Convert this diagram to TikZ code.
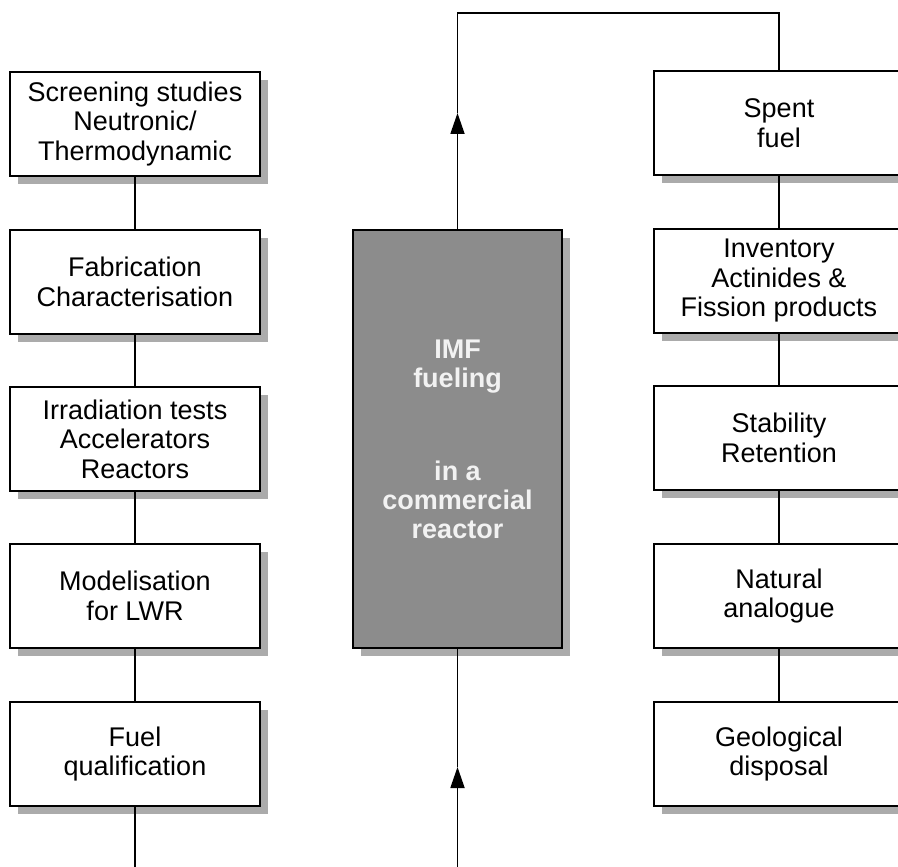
\documentclass[tikz,border=0pt]{standalone}
\usepackage{fontspec}
\setmainfont{Liberation Sans}
\usetikzlibrary{shadows,arrows.meta}
\begin{document}
\begin{tikzpicture}[x=1pt,y=-1pt,
  line width=1.8pt,
  stepbox/.style={draw=black, fill=white, line width=1.8pt, minimum width=250pt, minimum height=104pt,
    align=center, inner sep=2pt,
    font=\fontsize{27}{29.5}\selectfont,
    drop shadow={shadow xshift=8pt, shadow yshift=-8pt, fill=black!33, opacity=1}},
  centerbox/.style={draw=black, fill=black!45, line width=1.8pt, minimum width=209pt, minimum height=418pt,
    align=center, text=white!95!black,
    font=\fontsize{27}{29}\selectfont\bfseries,
    drop shadow={shadow xshift=8pt, shadow yshift=-8pt, fill=black!33, opacity=1}},
  arr/.style={-{Triangle[width=14pt,length=21pt]}, line width=1.8pt},
  conn/.style={line width=1.8pt}
]
\clip (0,0) rectangle (898,867);
\fill[white] (0,0) rectangle (898,867);

% left column
\node[stepbox] (l1) at (135,124) {Screening studies\\Neutronic/\\Thermodynamic};
\node[stepbox] (l2) at (135,282) {Fabrication\\Characterisation};
\node[stepbox] (l3) at (135,439) {Irradiation tests\\Accelerators\\Reactors};
\node[stepbox] (l4) at (135,596) {Modelisation\\for LWR};
\node[stepbox] (l5) at (135,754) {Fuel\\qualification};

% right column
\node[stepbox] (r1) at (779,123) {Spent\\fuel};
\node[stepbox] (r2) at (779,281) {Inventory\\Actinides \&\\Fission products};
\node[stepbox] (r3) at (779,438) {Stability\\Retention};
\node[stepbox] (r4) at (779,596) {Natural\\analogue};
\node[stepbox] (r5) at (779,754) {Geological\\disposal};

% center
\node[centerbox] (imf) at (457.5,439) {IMF\\fueling\\[64pt]in a\\commercial\\reactor};

% coordinates
\coordinate (tA) at (457.5,113);
\coordinate (topL) at (457.5,13);
\coordinate (tB) at (457.5,767);
\coordinate (botC) at (457.5,870);
\coordinate (botL) at (135,870);

% connectors
\draw[conn] (l1) -- (l2);
\draw[conn] (l2) -- (l3);
\draw[conn] (l3) -- (l4);
\draw[conn] (l4) -- (l5);
\draw[conn] (l5) -- (botL);

\draw[conn] (r1) -- (r2);
\draw[conn] (r2) -- (r3);
\draw[conn] (r3) -- (r4);
\draw[conn] (r4) -- (r5);

\draw[arr] (imf.north) -- (tA);
\draw[conn] (tA) -- (topL) -| (r1.north);
\draw[arr] (botC) -- (tB);
\draw[conn] (tB) -- (imf.south);
\end{tikzpicture}
\end{document}
